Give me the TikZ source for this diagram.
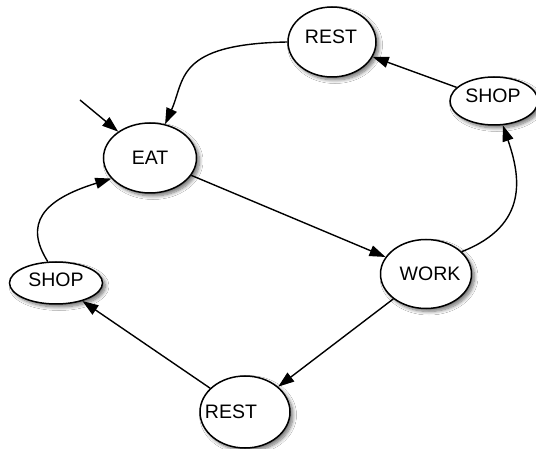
\documentclass[tikz,border=0pt]{standalone}
\usepackage{fontspec}
\setmainfont{Liberation Sans}
\usetikzlibrary{arrows.meta,shapes.geometric,shadows.blur}
\begin{document}
\begin{tikzpicture}[x=1pt,y=-1pt,
  st/.style={ellipse,draw=black,line width=1.5pt,fill=white,inner sep=0pt,
    blur shadow={shadow xshift=3pt,shadow yshift=-3pt,shadow opacity=55,shadow blur steps=8,shadow blur radius=3.5pt}},
  lbl/.style={font=\fontsize{19.5}{22}\selectfont,inner sep=0pt},
  edge/.style={line width=1.4pt,-{Triangle[length=16pt,width=11pt]}}]
\useasboundingbox (0,0) rectangle (536,449);
\fill[white] (0,0) rectangle (536,449);
\node[st,minimum width=93pt,minimum height=70pt,label={[lbl]center:EAT}] (eat) at (150,158) {};
\node[st,minimum width=88pt,minimum height=70pt,label={[lbl,shift={(-1,-5)}]center:REST}] (rest1) at (332,42) {};
\node[st,minimum width=88pt,minimum height=48pt,label={[lbl,shift={(-1,-5)}]center:SHOP}] (shop1) at (494,101) {};
\node[st,minimum width=91pt,minimum height=69pt,label={[lbl,shift={(4,0)}]center:WORK}] (work) at (426,274) {};
\node[st,minimum width=93pt,minimum height=42pt,label={[lbl,shift={(0,-3)}]center:SHOP}] (shop2) at (56,283) {};
\node[st,minimum width=90pt,minimum height=72pt,label={[lbl,shift={(-14,0)}]center:REST}] (rest2) at (245,412) {};
\coordinate (init) at (80,100);
\draw[edge] (init) -- (eat);
\draw[edge] (rest1.west) .. controls (175,44) and (185,80) .. (eat.66);
\draw[edge] (shop1) -- (rest1);
\draw[edge] (work.32) .. controls (530,225) and (520,175) .. (shop1.-70);
\draw[edge] (eat) -- (work);
\draw[edge] (work) -- (rest2);
\draw[edge] (rest2) -- (shop2);
\draw[edge] (shop2.111) .. controls (24,224) and (42,200) .. (eat.208);
\end{tikzpicture}
\end{document}
